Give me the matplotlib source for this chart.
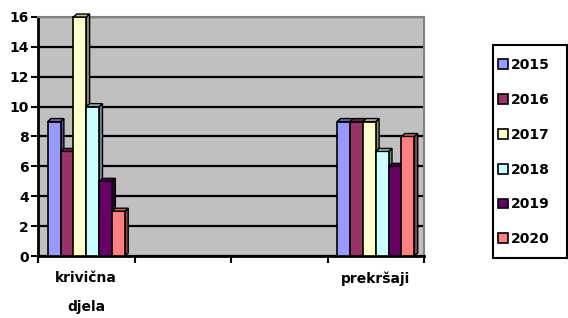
import numpy as np
import matplotlib.pyplot as plt
import matplotlib.colors as mc
from matplotlib.patches import Polygon, Patch, Rectangle

plt.rcParams['font.family'] = ['DejaVu Sans']
plt.rcParams['font.weight'] = 'bold'

# podaci
kategorije = ["krivična\ndjela", "", "", "prekršaji"]
godine = ["2015", "2016", "2017", "2018", "2019", "2020"]
krivicna_djela = [9, 7, 16, 10, 5, 3]
prekrsaji = [9, 9, 9, 7, 6, 8]
boje = ["#9999FF", "#993366", "#FFFFCC", "#CCFFFF", "#660066", "#FF8080"]

vrijednosti = np.full((len(godine), len(kategorije)), np.nan)
vrijednosti[:, 0] = krivicna_djela
vrijednosti[:, 3] = prekrsaji


def tamnija(c, f=0.6):
    r, g, b = mc.to_rgb(c)
    return (r * f, g * f, b * f)


W, H = 568, 318
fig = plt.figure(figsize=(W / 100, H / 100), dpi=100)
ax = fig.add_axes([38 / W, 62 / H, 386 / W, 239 / H])
ax.set_facecolor("#C0C0C0")

sirina = 0.8 / len(godine)
dx, dy = 0.035, 0.2
x = np.arange(len(kategorije)) + 0.5

for i, god in enumerate(godine):
    pos = x - 0.4 + i * sirina + sirina / 2
    vis = vrijednosti[i]
    ok = ~np.isnan(vis)
    ax.bar(pos[ok], vis[ok], width=sirina, color=boje[i], edgecolor="black",
           linewidth=1.2, zorder=3, clip_on=False)
    for p, h in zip(pos[ok], vis[ok]):
        x0, x1 = p - sirina / 2, p + sirina / 2
        vrh = Polygon([(x0, h), (x0 + dx, h + dy), (x1 + dx, h + dy), (x1, h)],
                      closed=True, facecolor=tamnija(boje[i], 0.75),
                      edgecolor="black", linewidth=1.0, zorder=3, clip_on=False)
        bok = Polygon([(x1, 0), (x1 + dx, dy), (x1 + dx, h + dy), (x1, h)],
                      closed=True, facecolor=tamnija(boje[i], 0.55),
                      edgecolor="black", linewidth=1.0, zorder=2.9, clip_on=False)
        ax.add_patch(vrh)
        ax.add_patch(bok)

ax.set_xlim(0, 4)
ax.set_ylim(0, 16)
ax.set_yticks(range(0, 17, 2))
ax.yaxis.grid(True, color="black", linewidth=1.6, zorder=1)
ax.set_axisbelow(True)

ax.set_xticks(range(0, 5))
ax.set_xticklabels([])
ax.set_xticks(x, minor=True)
ax.set_xticklabels(kategorije, minor=True, fontsize=10, fontweight="bold",
                   linespacing=2.35, va="top")
ax.tick_params(axis="x", which="minor", length=0, pad=11)
ax.tick_params(axis="x", which="major", length=5, width=1.5, direction="out")
ax.tick_params(axis="y", length=5, width=1.5, labelsize=10, pad=1.5)
for lab in ax.get_yticklabels():
    lab.set_fontweight("bold")

for s in ["left", "bottom"]:
    ax.spines[s].set_linewidth(2)
    ax.spines[s].set_color("black")
for s in ["top", "right"]:
    ax.spines[s].set_linewidth(1.5)
    ax.spines[s].set_color("#808080")

# okvir legende
fig.patches.append(Rectangle((493 / W, 1 - 258 / H), 74 / W, 213 / H,
                             transform=fig.transFigure, facecolor="white",
                             edgecolor="black", linewidth=1.5, zorder=0))

ruke = [Patch(facecolor=b, edgecolor="black", linewidth=1.2) for b in boje]
leg = fig.legend(ruke, godine, loc="upper left", bbox_to_anchor=(498 / W, 1 - 58 / H),
                 frameon=False, handlelength=0.7, handleheight=0.7,
                 handletextpad=0.25, labelspacing=1.5, borderpad=0,
                 borderaxespad=0, prop={"weight": "bold", "size": 10})

fig.savefig("out.png", dpi=100)
